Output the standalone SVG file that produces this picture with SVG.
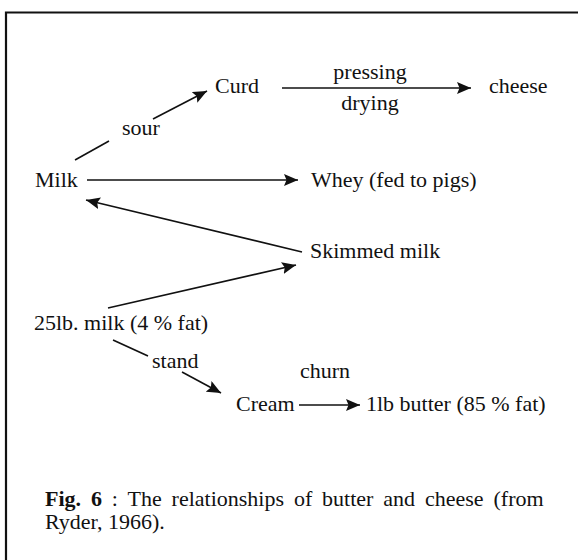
<svg xmlns="http://www.w3.org/2000/svg" width="578" height="560" viewBox="0 0 578 560">
<defs>
<style>
text{font-family:"Liberation Serif","Times New Roman",serif;font-size:22px;fill:#111}
.c line{stroke:#111;stroke-width:1.6}
.a{marker-end:url(#ah)}
.frame{fill:none;stroke:#111;stroke-width:2.2}
</style>
<marker id="ah" markerUnits="userSpaceOnUse" markerWidth="15" markerHeight="12" refX="14" refY="6" orient="auto">
<path d="M0,0 L14,6 L0,12 L2.5,6 z" fill="#111"/>
</marker>
</defs>
<rect width="578" height="560" fill="#fff"/>
<path class="frame" d="M6,560 V12.5 H578"/>
<g id="milk"><text x="35" y="187">Milk</text></g>
<g id="curd"><text x="215" y="93">Curd</text></g>
<g id="cheese"><text x="489" y="93">cheese</text></g>
<g id="whey"><text x="311" y="187">Whey (fed to pigs)</text></g>
<g id="skimmed"><text x="310" y="258">Skimmed milk</text></g>
<g id="milk25"><text x="34" y="330">25lb. milk (4 % fat)</text></g>
<g id="cream"><text x="236" y="411">Cream</text></g>
<g id="butter"><text x="366" y="411">1lb butter (85 % fat)</text></g>
<g id="connectors" class="c">
<line x1="75" y1="160" x2="109" y2="141"/>
<line class="a" x1="153" y1="119" x2="207" y2="91"/>
<line class="a" x1="282" y1="88" x2="471" y2="88"/>
<line class="a" x1="87" y1="180" x2="298" y2="180"/>
<line class="a" x1="302" y1="252" x2="86" y2="200"/>
<line class="a" x1="108" y1="308" x2="296" y2="265"/>
<line x1="113" y1="340" x2="148" y2="356"/>
<line class="a" x1="182" y1="372" x2="221" y2="393"/>
<line class="a" x1="299" y1="405" x2="360" y2="405"/>
</g>
<g id="labels">
<text x="122" y="135">sour</text>
<text x="370" y="79" text-anchor="middle">pressing</text>
<text x="370" y="110" text-anchor="middle">drying</text>
<text x="152" y="368">stand</text>
<text x="300" y="378">churn</text>
</g>
<g id="caption">
<text x="45" y="506" word-spacing="4.4"><tspan font-weight="bold">Fig. 6</tspan> : The relationships of butter and cheese (from</text>
<text x="45" y="529">Ryder, 1966).</text>
</g>
</svg>
